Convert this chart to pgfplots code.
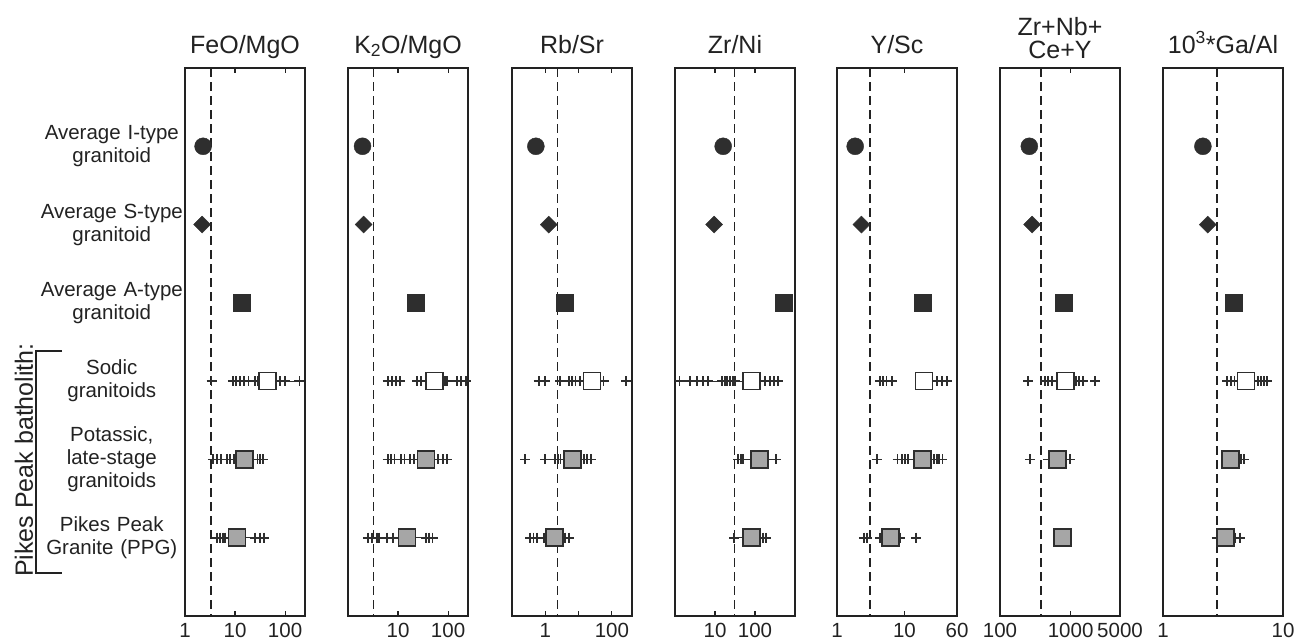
\documentclass[border=0pt]{standalone}
\usepackage{pgfplots}
\pgfplotsset{compat=1.18}
\usepackage{fontspec}
\setmainfont{Liberation Sans}
\definecolor{dk}{HTML}{2E2E2E}
\definecolor{txt}{HTML}{222222}
\definecolor{gbx}{HTML}{A6A6A6}
\pgfplotsset{
  every axis/.append style={
    scale only axis, width=120pt, height=548pt,
    ymin=0, ymax=7, y dir=reverse, anchor=south west,
    tick align=inside, major tick length=5pt,
    xminorticks=false, unbounded coords=jump,
    tick style={line width=1.1pt, color=txt},
    axis line style={line width=1.4pt, color=txt},
    xticklabel style={font=\fontsize{20.5}{24}\selectfont, text=txt, inner sep=0pt, yshift=-7pt},
    title style={font=\fontsize{25}{24}\selectfont, text=txt, anchor=base, inner sep=0pt, yshift=9pt, align=center},
  },
  thr/.style={line width=1.5pt, color=txt, dash pattern=on 9pt off 5pt},
  whisk/.style={line width=1.1pt, color=dk, no marks},
  plusmk/.style={only marks, mark=+, mark size=5pt, mark options={line width=1.8pt, draw=dk}},
  circ/.style={only marks, mark=*, mark size=8.5pt, mark options={fill=dk, draw=dk}},
  diam/.style={only marks, mark=square*, mark size=6pt, mark options={rotate=45, fill=dk, draw=dk}},
  asq/.style={only marks, mark=square*, mark size=8.5pt, mark options={fill=dk, draw=dk}},
  obox/.style={only marks, mark=square*, mark size=8.5pt, mark options={fill=white, draw=dk, line width=1.6pt}},
  gbox/.style={only marks, mark=square*, mark size=8.5pt, mark options={fill=gbx, draw=dk, line width=1.6pt}},
}
\begin{document}
\begin{tikzpicture}
\useasboundingbox (0pt,0pt) rectangle (1294pt,641pt);

% Panel 1: FeO/MgO
\begin{axis}[xmode=log, at={(185pt,25pt)}, xmin=1, xmax=250,
  xtick={1,10,100}, xticklabels={1,10,100},
  title={FeO/MgO},
  ytick={1,2,3,4,5,6},
  ytick style={draw=none},
  yticklabels={{Average I-type\\granitoid},{Average S-type\\granitoid},{Average A-type\\granitoid},{Sodic\\granitoids},{Potassic,\\late-stage\\granitoids},{Pikes Peak\\Granite (PPG)}},
  yticklabel style={font=\fontsize{20.5}{23}\selectfont, text=txt, text width=150pt, align=center, inner sep=0pt, xshift=2pt},
]
\addplot[thr] coordinates {(3.3,0) (3.3,7)};
\addplot[whisk] coordinates {(8,4) (194,4) (nan,nan) (3.6,5) (36,5) (nan,nan) (4.3,6) (38.5,6)};
\addplot[plusmk] coordinates {(3.4,4) (9,4) (10.5,4) (12.6,4) (15,4) (18.5,4) (25,4) (28,4) (79,4) (100,4) (194,4)
 (3.6,5) (4.3,5) (5.2,5) (6.8,5) (7.9,5) (9.5,5) (28,5) (31,5) (36,5)
 (4.3,6) (5,6) (5.7,6) (6.3,6) (25,6) (31.6,6) (38.5,6)};
\addplot[circ] coordinates {(2.3,1)};
\addplot[diam] coordinates {(2.2,2)};
\addplot[asq] coordinates {(13.8,3)};
\addplot[obox] coordinates {(44,4)};
\addplot[gbox] coordinates {(15.6,5) (11,6)};
\end{axis}

% Panel 2: K2O/MgO
\begin{axis}[xmode=log, at={(348pt,25pt)}, xmin=1, xmax=250, ytick=\empty,
  xtick={10,100}, xticklabels={10,100},
  title={K\textsubscript{2}O/MgO}]
\addplot[thr] coordinates {(3.2,0) (3.2,7)};
\addplot[whisk] coordinates {(6.2,4) (11.1,4) (nan,nan) (24,4) (229,4) (nan,nan) (6.2,5) (95,5) (nan,nan) (2.5,6) (49,6)};
\addplot[plusmk] coordinates {(6.2,4) (7.5,4) (9.1,4) (11.1,4) (24,4) (29,4) (87,4) (95,4) (151,4) (182,4) (229,4)
 (6.2,5) (7.2,5) (8.5,5) (11.5,5) (13.4,5) (17.6,5) (21,5) (62,5) (78,5) (95,5)
 (2.5,6) (3,6) (3.8,6) (4.2,6) (6,6) (7.8,6) (36,6) (42,6) (49,6)};
\addplot[circ] coordinates {(1.95,1)};
\addplot[diam] coordinates {(2.05,2)};
\addplot[asq] coordinates {(23,3)};
\addplot[obox] coordinates {(53,4)};
\addplot[gbox] coordinates {(36,5) (15,6)};
\end{axis}

% Panel 3: Rb/Sr
\begin{axis}[xmode=log, at={(512pt,25pt)}, xmin=0.1, xmax=400, ytick=\empty,
  xtick={1,10,100}, xticklabels={1,,100},
  title={Rb/Sr}]
\addplot[thr] coordinates {(2.3,0) (2.3,7)};
\addplot[whisk] coordinates {(2.8,4) (56,4) (nan,nan) (2,5) (23,5) (nan,nan) (0.35,6) (5.1,6)};
\addplot[plusmk] coordinates {(0.63,4) (1,4) (2.8,4) (5.1,4) (6.4,4) (8.1,4) (11,4) (56,4) (265,4)
 (0.25,5) (1,5) (2,5) (2.4,5) (2.85,5) (14.5,5) (18.3,5) (23,5)
 (0.35,6) (0.44,6) (0.56,6) (0.89,6) (4,6) (5.1,6)};
\addplot[circ] coordinates {(0.52,1)};
\addplot[diam] coordinates {(1.27,2)};
\addplot[asq] coordinates {(3.8,3)};
\addplot[obox] coordinates {(25,4)};
\addplot[gbox] coordinates {(6.6,5) (1.9,6)};
\end{axis}

% Panel 4: Zr/Ni
\begin{axis}[xmode=log, at={(675pt,25pt)}, xmin=1, xmax=1000, ytick=\empty,
  xtick={10,100}, xticklabels={10,100},
  title={Zr/Ni}]
\addplot[thr] coordinates {(31,0) (31,7)};
\addplot[whisk] coordinates {(1.3,4) (383,4) (nan,nan) (38,5) (335,5) (nan,nan) (30,6) (189,6)};
\addplot[plusmk] coordinates {(1.3,4) (2.4,4) (3.5,4) (4.9,4) (6.8,4) (15,4) (17.8,4) (20,4) (24,4) (28,4) (32,4) (178,4) (237,4) (300,4) (383,4)
 (38,5) (44,5) (51,5) (335,5)
 (30,6) (162,6) (189,6)};
\addplot[circ] coordinates {(16,1)};
\addplot[diam] coordinates {(9.5,2)};
\addplot[asq] coordinates {(530,3)};
\addplot[obox] coordinates {(83,4)};
\addplot[gbox] coordinates {(128,5) (83,6)};
\end{axis}

% Panel 5: Y/Sc
\begin{axis}[xmode=log, at={(837pt,25pt)}, xmin=1, xmax=60, ytick=\empty,
  xtick={1,10,60}, xticklabels={1,10,60},
  title={Y/Sc}]
\addplot[thr] coordinates {(3.1,0) (3.1,7)};
\addplot[whisk] coordinates {(4.3,4) (6.5,4) (nan,nan) (19.4,4) (43,4) (nan,nan) (7.9,5) (36.5,5) (nan,nan) (4.3,6) (8.5,6)};
\addplot[plusmk] coordinates {(4.3,4) (4.8,4) (5.4,4) (6.5,4) (30,4) (36,4) (43,4)
 (3.9,5) (7.9,5) (9.2,5) (10.3,5) (11.2,5) (27,5) (30,5) (32.5,5) (36.5,5)
 (2.5,6) (2.8,6) (4.3,6) (8.5,6) (14.9,6)};
\addplot[circ] coordinates {(1.86,1)};
\addplot[diam] coordinates {(2.3,2)};
\addplot[asq] coordinates {(18.7,3)};
\addplot[obox] coordinates {(19.4,4)};
\addplot[gbox] coordinates {(18.3,5) (6.2,6)};
\end{axis}

% Panel 6: Zr+Nb+Ce+Y
\begin{axis}[xmode=log, at={(1000pt,25pt)}, xmin=100, xmax=5000, ytick=\empty,
  xtick={100,1000,5000}, xticklabels={100,1000,5000},
  title style={yshift=-5pt},
  title={Zr+Nb+\\[-1pt]Ce+Y}]
\addplot[thr] coordinates {(380,0) (380,7)};
\addplot[whisk] coordinates {(435,4) (1480,4) (nan,nan) (485,5) (980,5)};
\addplot[plusmk] coordinates {(252,4) (435,4) (483,4) (540,4) (1190,4) (1330,4) (1480,4) (2220,4)
 (265,5) (485,5) (980,5)};
\addplot[circ] coordinates {(260,1)};
\addplot[diam] coordinates {(285,2)};
\addplot[asq] coordinates {(810,3)};
\addplot[obox] coordinates {(850,4)};
\addplot[gbox] coordinates {(650,5) (770,6)};
\end{axis}

% Panel 7: 10^3*Ga/Al
\begin{axis}[xmode=log, at={(1163pt,25pt)}, xmin=1, xmax=10, ytick=\empty,
  xtick={1,10}, xticklabels={1,10},
  title={10\textsuperscript{3}*Ga/Al}]
\addplot[thr] coordinates {(2.82,0) (2.82,7)};
\addplot[whisk] coordinates {(3.43,4) (7.3,4) (nan,nan) (3.66,5) (4.7,5) (nan,nan) (2.8,6) (4.4,6)};
\addplot[plusmk] coordinates {(3.43,4) (3.7,4) (3.95,4) (6.2,4) (6.6,4) (6.9,4) (7.3,4)
 (4.5,5) (4.7,5)
 (2.8,6) (4.0,6) (4.4,6)};
\addplot[circ] coordinates {(2.15,1)};
\addplot[diam] coordinates {(2.36,2)};
\addplot[asq] coordinates {(3.85,3)};
\addplot[obox] coordinates {(4.9,4)};
\addplot[gbox] coordinates {(3.66,5) (3.3,6)};
\end{axis}

% Bracket for Pikes Peak batholith
\draw[line width=1.3pt, color=txt] (62pt,290pt) -- (36pt,290pt) -- (36pt,68pt) -- (62pt,68pt);
\node[rotate=90, font=\fontsize{25}{29}\selectfont, text=txt, inner sep=0pt] at (24pt,181pt) {Pikes Peak batholith:};
\end{tikzpicture}
\end{document}
